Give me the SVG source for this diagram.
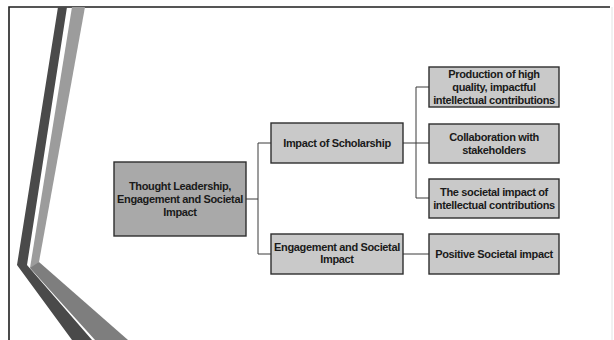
<svg xmlns="http://www.w3.org/2000/svg" width="614" height="340" viewBox="0 0 614 340">
<defs>
<style>
.node rect{stroke:#2e2e2e;stroke-width:1.4}
.lt rect{fill:#c9c9c9}
.dk rect{fill:#a9a9a9}
.node text{font-family:"Liberation Sans",Arial,sans-serif;font-weight:bold;font-size:11px;fill:#1a1a1a;text-anchor:middle;letter-spacing:-0.35px}
.conn path{fill:none;stroke:#3a3a3a;stroke-width:1}
</style>
</defs>
<rect x="0" y="0" width="614" height="340" fill="#ffffff"/>
<g id="frame">
<path d="M9 340 V7 H610" fill="none" stroke="#1e1e1e" stroke-width="1.6"/>
<line x1="612" y1="7" x2="612" y2="340" stroke="#e2e2e2" stroke-width="1"/>
</g>
<g id="decor">
<polygon points="58,7 67,7 27,265 92,340 72,340 17,265" fill="#4a4a4a"/>
<polygon points="72,7 85,7 39,262 35,268 30,268" fill="#9c9c9c"/>
<polygon points="30,268 39,262 128,340 95,340" fill="#7e7e7e"/>
</g>
<g class="conn" id="connectors">
<path d="M246 199 H258 M258 143 V254 M258 143 H271 M258 254 H271"/>
<path d="M403 143 H429 M416 87 V198 M416 87 H429 M416 198 H429"/>
<path d="M403 254 H429"/>
</g>
<g id="n_root" class="node dk">
<rect x="114" y="162" width="132" height="74"/>
<text x="180" y="190">Thought Leadership,</text>
<text x="180" y="203">Engagement and Societal</text>
<text x="180" y="215.5">Impact</text>
</g>
<g id="n_scholarship" class="node lt">
<rect x="271" y="123" width="132" height="40"/>
<text x="337" y="147">Impact of Scholarship</text>
</g>
<g id="n_engagement" class="node lt">
<rect x="271" y="234" width="132" height="40"/>
<text x="337" y="251">Engagement and Societal</text>
<text x="337" y="263">Impact</text>
</g>
<g id="n_production" class="node lt">
<rect x="429" y="67" width="130" height="40"/>
<text x="494" y="78">Production of high</text>
<text x="494" y="91">quality, impactful</text>
<text x="494" y="104">intellectual contributions</text>
</g>
<g id="n_collaboration" class="node lt">
<rect x="429" y="124" width="130" height="39"/>
<text x="494" y="141">Collaboration with</text>
<text x="494" y="154">stakeholders</text>
</g>
<g id="n_societal" class="node lt">
<rect x="429" y="179" width="130" height="39"/>
<text x="494" y="196">The societal impact of</text>
<text x="494" y="209">intellectual contributions</text>
</g>
<g id="n_positive" class="node lt">
<rect x="429" y="234" width="130" height="40"/>
<text x="494" y="258">Positive Societal impact</text>
</g>
</svg>
